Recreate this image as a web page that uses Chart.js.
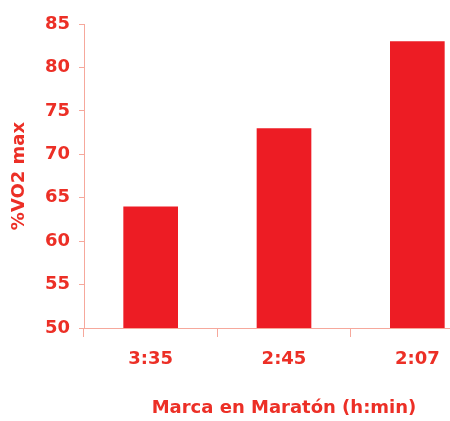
<!DOCTYPE html>
<html>
<head>
<meta charset="utf-8">
<script src="https://cdn.jsdelivr.net/npm/chart.js@4"></script>
<style>
  html, body { margin: 0; padding: 0; background: #ffffff; overflow: hidden; }
  #wrap { width: 450px; height: 421px; overflow: hidden; }
  canvas { display: block; }
</style>
</head>
<body>
<div id="wrap"><canvas id="c" width="484" height="421"></canvas></div>
<script>
// Marathon finishing time vs. fraction of VO2 max sustained
const categories = ['3:35', '2:45', '2:07'];
const vo2Percent = [64, 73, 83];
const yTickMin = 50;
const yTickMax = 85;
const yTickStep = 5;
const xTitle = 'Marca en Maratón (h:min)';
const yTitle = '%VO2 max';

const barRed = '#ed1c24';
const textRed = '#ec2f26';
const axisPink = '#f6a89c';
const font = { family: '"DejaVu Sans", sans-serif', size: 18, weight: 'bold' };

new Chart(document.getElementById('c'), {
  type: 'bar',
  data: {
    labels: categories,
    datasets: [{
      data: vo2Percent,
      backgroundColor: barRed,
      borderWidth: 0,
      barPercentage: 0.41,
      categoryPercentage: 1.0
    }]
  },
  options: {
    responsive: false,
    animation: false,
    layout: { padding: { left: 0, right: 0, top: 24, bottom: 0 } },
    plugins: { legend: { display: false }, tooltip: { enabled: false } },
    scales: {
      x: {
        offset: true,
        grid: { display: true, drawOnChartArea: false, drawTicks: true, tickLength: 9, color: axisPink, offset: true },
        border: { display: true, color: axisPink, width: 1 },
        ticks: { color: textRed, font: font, padding: 12, maxRotation: 0 },
        title: { display: true, text: xTitle, color: textRed, font: font, padding: { top: 0, bottom: 2 } },
        afterFit: (s) => { s.height = 93; }
      },
      y: {
        min: yTickMin,
        max: yTickMax,
        grid: { display: true, drawOnChartArea: false, drawTicks: true, tickLength: 5, color: axisPink },
        border: { display: true, color: axisPink, width: 1 },
        ticks: { stepSize: yTickStep, color: textRed, font: font, padding: 9 },
        title: { display: true, text: yTitle, color: textRed, font: font, padding: { top: 9, bottom: 0 } },
        afterFit: (s) => { s.width = 84; }
      }
    }
  }
});
</script>
</body>
</html>
